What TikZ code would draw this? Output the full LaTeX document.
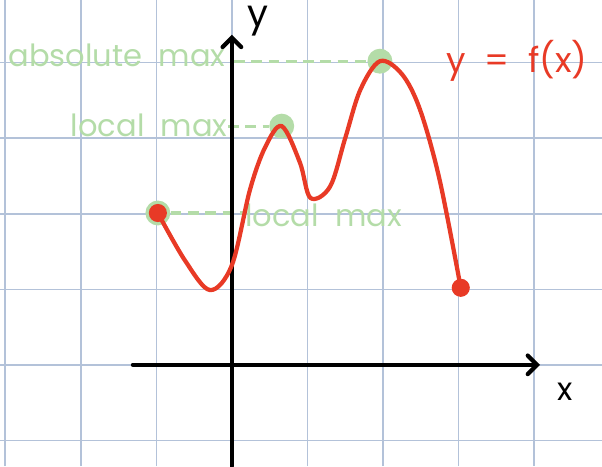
\documentclass[tikz,border=0pt]{standalone}
\usepackage{fontspec}
\setmainfont{Poppins}
\usetikzlibrary{arrows.meta}
\definecolor{gridblue}{HTML}{B3C2D9}
\definecolor{fred}{HTML}{E83A26}
\definecolor{maxgreen}{HTML}{B4DCA8}
\tikzset{
  maxlabel/.style={text=maxgreen, font=\fontsize{11.5}{11.5}\selectfont, inner sep=0pt},
  maxguide/.style={maxgreen, line width=1.2pt, dash pattern=on 4pt off 2.5pt},
  maxdot/.style={circle, fill=maxgreen, minimum size=0.33cm, inner sep=0pt},
  enddot/.style={circle, fill=fred, minimum size=0.24cm, inner sep=0pt},
  axisline/.style={line width=1.6pt, line cap=round},
}

\begin{document}
\begin{tikzpicture}
  \def\gxL{-3.07}\def\gxR{4.90}\def\gyB{-1.34}\def\gyT{4.83}
  \useasboundingbox (\gxL,\gyB) rectangle (\gxR,\gyT);
  % grid
  \foreach \gx in {-3,...,4} \draw[gridblue, line width=0.6pt] (\gx,\gyB) -- (\gx,\gyT);
  \foreach \gy in {-1,...,4} \draw[gridblue, line width=0.6pt] (\gxL,\gy) -- (\gxR,\gy);
  % maxima
  \node[maxdot] (lmaxL) at (-0.98,2.01) {};
  \node[maxdot] (lmaxM) at (0.66,3.16) {};
  \node[maxdot] (amax) at (1.96,4.02) {};
  \node[maxlabel, anchor=east] (amaxlab) at (-0.08,4.1) {absolute\ \ max};
  \node[maxlabel, anchor=east] (lmaxMlab) at (-0.05,3.17) {local\ \ max};
  \node[maxlabel, anchor=west] (lmaxLlab) at (0.17,1.98) {local\ \ max};
  \coordinate (yabs) at (0.03,4.02);
  \draw[maxguide] (yabs) -- (amax);
  \draw[maxguide] (lmaxMlab.east |- lmaxM) -- (lmaxM);
  \draw[maxguide] (lmaxL) -- (lmaxL -| lmaxLlab.west);
  % axes
  \coordinate (ybot) at (0,\gyB);
  \coordinate (ytop) at (0,4.37);
  \coordinate (xleft) at (-1.31,0);
  \coordinate (xright) at (4.08,0);
  \draw[axisline, -{Straight Barb[length=3.5pt, width=7pt, line cap=round]}] (ybot) -- (ytop);
  \draw[axisline, -{Straight Barb[length=3.5pt, width=7pt, line cap=round]}] (xleft) -- (xright);
  \node[font=\fontsize{14}{14}\selectfont] (ylab) at (0.34,4.55) {y};
  \node[font=\fontsize{12}{12}\selectfont] (xlab) at (4.41,-0.36) {x};
  % y = f(x)
  \draw[fred, line width=1.6pt, line cap=round] plot[smooth, tension=0.55] coordinates {
    (-0.98,2.01) (-0.62,1.38) (-0.29,0.99) (0,1.32) (0.24,2.32) (0.44,2.88) (0.66,3.16)
    (0.90,2.68) (1.04,2.21) (1.30,2.36) (1.50,3.0) (1.70,3.64) (1.96,4.02)
    (2.25,3.85) (2.49,3.38) (2.75,2.45) (3.03,1.02)};
  \node[enddot] (fstart) at (-0.98,2.01) {};
  \node[enddot] (fend) at (3.03,1.02) {};
  \node[text=fred, font=\fontsize{13}{13}\selectfont, anchor=west, inner sep=0pt] (flab) at (2.84,4.02) {y\ \ =\ \ f(x)};
\end{tikzpicture}
\end{document}
